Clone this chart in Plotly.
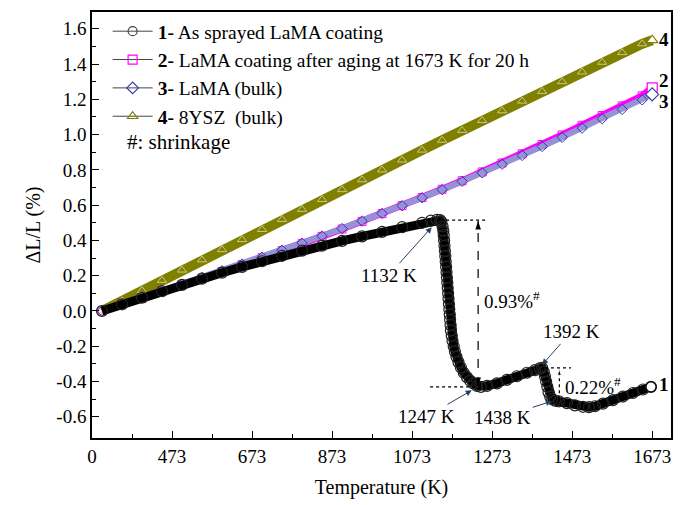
import plotly.graph_objects as go

# ---------------- data ----------------
# Series 1: as sprayed LaMA coating
T1 = [298, 348, 398, 448, 498, 548, 598, 648, 698, 748, 798, 848, 898, 948, 998, 1048, 1098, 1120, 1135, 1143,
      1146, 1149, 1151, 1152, 1153, 1154, 1155, 1156, 1157, 1158, 1159, 1160, 1161, 1162, 1163, 1164, 1165, 1166,
      1167, 1168, 1169, 1170, 1172, 1174, 1177, 1180, 1184, 1189, 1195, 1202, 1210, 1218, 1226, 1235,
      1245, 1260, 1285, 1310, 1335, 1360, 1380, 1392, 1398,
      1402, 1405, 1408, 1411, 1414, 1418, 1423, 1430,
      1440, 1460, 1480, 1500, 1515, 1530, 1550, 1575, 1600, 1625, 1650, 1670]
Y1 = [0.0, 0.038, 0.075, 0.112, 0.148, 0.183, 0.217, 0.25, 0.282, 0.313, 0.342, 0.37, 0.397, 0.423, 0.448, 0.475, 0.50, 0.512, 0.517, 0.515,
      0.505, 0.48, 0.455, 0.43, 0.40, 0.37, 0.34, 0.31, 0.28, 0.25, 0.22, 0.19, 0.16, 0.13, 0.10, 0.07, 0.04, 0.01,
      -0.02, -0.05, -0.08, -0.11, -0.14, -0.17, -0.20, -0.23, -0.26, -0.29, -0.32, -0.35, -0.375, -0.395, -0.41, -0.425,
      -0.43, -0.425, -0.41, -0.39, -0.37, -0.35, -0.335, -0.325, -0.322,
      -0.345, -0.37, -0.40, -0.43, -0.46, -0.485, -0.50, -0.508,
      -0.512, -0.522, -0.535, -0.543, -0.545, -0.54, -0.525, -0.505, -0.485, -0.465, -0.445, -0.43]

# Series 2-4 temperatures
T = [298, 348, 398, 448, 498, 548, 598, 648, 698, 748, 798, 848, 898, 948, 998, 1048, 1098, 1148, 1198,
     1248, 1298, 1348, 1398, 1448, 1498, 1548, 1598, 1648, 1673]
# Series 2: LaMA coating after aging
Y2 = [0.0, 0.035, 0.072, 0.11, 0.148, 0.186, 0.224, 0.263, 0.302, 0.342, 0.382, 0.423, 0.465, 0.508, 0.552, 0.597,
      0.643, 0.69, 0.738, 0.788, 0.839, 0.891, 0.944, 0.998, 1.053, 1.108, 1.163, 1.22, 1.265]
# Series 3: LaMA bulk
Y3 = [0.0, 0.038, 0.076, 0.114, 0.152, 0.19, 0.228, 0.266, 0.305, 0.345, 0.385, 0.425, 0.467, 0.51, 0.553, 0.597,
      0.642, 0.688, 0.735, 0.783, 0.832, 0.882, 0.933, 0.985, 1.037, 1.09, 1.143, 1.197, 1.228]
# Series 4: 8YSZ bulk
Y4 = [0.0, 0.058, 0.116, 0.174, 0.232, 0.29, 0.348, 0.405, 0.462, 0.519, 0.576, 0.632, 0.688, 0.744, 0.80, 0.856,
      0.912, 0.968, 1.024, 1.08, 1.135, 1.19, 1.245, 1.30, 1.355, 1.41, 1.465, 1.515, 1.535]

names = ["<b>1-</b> As sprayed LaMA coating",
         "<b>2-</b> LaMA coating after aging at 1673 K for 20 h",
         "<b>3-</b> LaMA (bulk)",
         "<b>4-</b> 8YSZ  (bulk)"]

x_tickvals = [273, 473, 673, 873, 1073, 1273, 1473, 1673]
x_ticktext = ["0", "473", "673", "873", "1073", "1273", "1473", "1673"]
x_minor = [373, 573, 773, 973, 1173, 1373, 1573]
y_tickvals = [-0.6, -0.4, -0.2, 0.0, 0.2, 0.4, 0.6, 0.8, 1.0, 1.2, 1.4, 1.6]
y_minor = [-0.5, -0.3, -0.1, 0.1, 0.3, 0.5, 0.7, 0.9, 1.1, 1.3, 1.5]

FONT = "Liberation Serif, Times New Roman, serif"
OLIVE = "#808000"
MAG = "#ff00ff"
BLUE = "#3a3aa8"
LAV = "#9393d6"

fig = go.Figure()

# data bands
fig.add_trace(go.Scatter(x=T, y=Y4, mode="lines+markers", showlegend=False,
                         line=dict(color=OLIVE, width=10),
                         marker=dict(symbol="triangle-up-open", size=8, color="#c9c98a", line=dict(width=1))))
fig.add_trace(go.Scatter(x=T, y=Y2, mode="lines+markers", showlegend=False,
                         line=dict(color=MAG, width=7),
                         marker=dict(symbol="square-open", size=8, color=MAG, line=dict(width=1))))
fig.add_trace(go.Scatter(x=T, y=Y3, mode="lines+markers", showlegend=False,
                         line=dict(color=LAV, width=6),
                         marker=dict(symbol="diamond-open", size=8, color=BLUE, line=dict(width=1))))
fig.add_trace(go.Scatter(x=T1, y=Y1, mode="lines+markers", showlegend=False,
                         line=dict(color="black", width=9),
                         marker=dict(symbol="circle-open", size=11, color="#222222", line=dict(width=1.2))))

# end markers (white filled)
ends = [(T[-1], Y4[-1], "triangle-up", OLIVE), (T[-1], Y2[-1], "square", MAG),
        (T[-1], Y3[-1], "diamond", BLUE), (T1[-1], Y1[-1], "circle", "black")]
for ex, ey, sym, col in ends:
    fig.add_trace(go.Scatter(x=[ex], y=[ey], mode="markers", showlegend=False,
                             marker=dict(symbol=sym, size=10, color="white", line=dict(color=col, width=1.2))))

# dashed double arrow (0.93 %) and dotted arrow (0.22 %)
fig.add_trace(go.Scatter(x=[1238, 1238], y=[-0.425, 0.51], mode="lines+markers", showlegend=False,
                         line=dict(color="black", width=1.2, dash="dash"),
                         marker=dict(symbol="arrow", size=9, angle=[180, 0], color="black")))
fig.add_trace(go.Scatter(x=[1441, 1441], y=[-0.50, -0.327], mode="lines+markers", showlegend=False,
                         line=dict(color="black", width=1.2, dash="dot"),
                         marker=dict(symbol="arrow", size=[0, 7], angle=[180, 0], color="black")))

# legend entries
leg = [("circle-open", "#444444"), ("square-open", MAG), ("diamond-open", BLUE), ("triangle-up-open", OLIVE)]
for nm, (sym, col) in zip(names, leg):
    fig.add_trace(go.Scatter(x=[None], y=[None], mode="lines+markers", name=nm,
                             line=dict(color="#444444", width=1),
                             marker=dict(symbol=sym, size=9, color=col, line=dict(width=1.2))))

ann_font = dict(family=FONT, size=19, color="black")
annotations = [
    dict(x=0.057, y=0.696, xref="paper", yref="paper", text="#: shrinkage", showarrow=False,
         xanchor="left", yanchor="middle", font=dict(family=FONT, size=21, color="black")),
    dict(x=1122, y=0.475, text="1132 K", showarrow=True, ax=-43, ay=48, arrowhead=2, arrowsize=1.2,
         arrowwidth=1, font=ann_font),
    dict(x=1222, y=-0.45, text="1247 K", showarrow=True, ax=-45, ay=26, arrowhead=2, arrowsize=1.2,
         arrowwidth=1, font=ann_font),
    dict(x=1398, y=-0.305, text="1392 K", showarrow=True, ax=29, ay=-33, arrowhead=2, arrowsize=1.2,
         arrowwidth=1, font=ann_font),
    dict(x=1422, y=-0.511, text="1438 K", showarrow=True, ax=-49, ay=16, arrowhead=2, arrowsize=1.2,
         arrowwidth=1, font=ann_font),
    dict(x=1247, y=0.06, text="0.93%<sup>#</sup>", showarrow=False, xanchor="left", font=ann_font),
    dict(x=1450, y=-0.425, text="0.22%<sup>#</sup>", showarrow=False, xanchor="left", font=ann_font),
]
bold = dict(family=FONT, size=19, color="black")
for lbl, ly in [("4", 1.54), ("2", 1.305), ("3", 1.19), ("1", -0.415)]:
    annotations.append(dict(x=1685, y=ly, text="<b>%s</b>" % lbl, showarrow=False, xanchor="left", font=bold))

shapes = [
    dict(type="line", x0=1143, x1=1258, y0=0.515, y1=0.515, line=dict(color="black", width=1.2, dash="dot")),
    dict(type="line", x0=1118, x1=1236, y0=-0.43, y1=-0.43, line=dict(color="black", width=1.2, dash="dot")),
    dict(type="line", x0=1405, x1=1470, y0=-0.322, y1=-0.322, line=dict(color="black", width=1.2, dash="dot")),
    dict(type="line", x0=1430, x1=1448, y0=-0.54, y1=-0.54, line=dict(color="black", width=1.2, dash="dot")),
]

fig.update_layout(
    width=685, height=505,
    margin=dict(l=92, r=14, t=10, b=64),
    paper_bgcolor="white", plot_bgcolor="white",
    font=dict(family=FONT, size=19, color="black"),
    showlegend=True,
    legend=dict(x=0.027, y=1.0, xanchor="left", yanchor="top", bgcolor="rgba(0,0,0,0)",
                font=dict(family=FONT, size=19.5), tracegroupgap=0, itemwidth=40),
    annotations=annotations, shapes=shapes,
    xaxis=dict(range=[273, 1720], tickmode="array", tickvals=x_tickvals, ticktext=x_ticktext,
               ticks="inside", ticklen=7, tickwidth=1.3, tickcolor="black",
               minor=dict(tickmode="array", tickvals=x_minor, ticks="inside", ticklen=4, tickwidth=1.2, tickcolor="black"),
               showline=True, linecolor="black", linewidth=1.5, mirror=True,
               showgrid=False, zeroline=False,
               tickfont=dict(family=FONT, size=19),
               title=dict(text="Temperature (K)", font=dict(family=FONT, size=20), standoff=14)),
    yaxis=dict(range=[-0.72, 1.695], tickmode="array", tickvals=y_tickvals,
               ticktext=["%.1f" % v for v in y_tickvals],
               ticks="inside", ticklen=7, tickwidth=1.3, tickcolor="black",
               minor=dict(tickmode="array", tickvals=y_minor, ticks="inside", ticklen=4, tickwidth=1.2, tickcolor="black"),
               showline=True, linecolor="black", linewidth=1.5, mirror=True,
               showgrid=False, zeroline=False,
               tickfont=dict(family=FONT, size=19),
               title=dict(text="ΔL/L (%)", font=dict(family=FONT, size=20), standoff=10)),
)

fig.write_html("out.html")
